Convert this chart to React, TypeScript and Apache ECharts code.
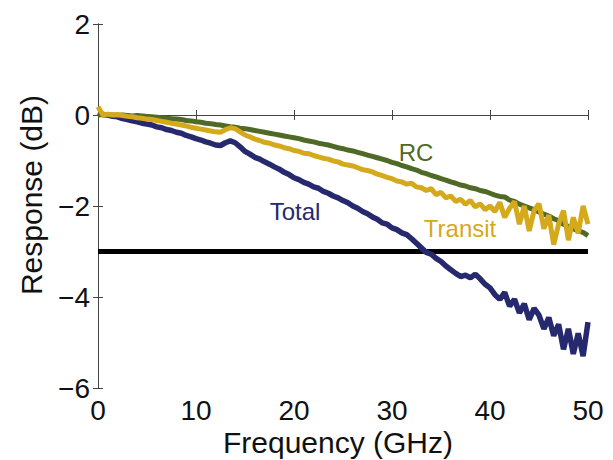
import React, { useEffect, useRef } from "react";
import * as echarts from "echarts";

const freq = [
  0, 0.5, 1, 1.5, 2, 2.5, 3, 3.5, 4, 4.5, 5, 5.5, 6, 6.5, 7, 7.5, 8, 8.5, 9, 9.5,
  10, 10.5, 11, 11.5, 12, 12.5, 13, 13.5, 14, 14.5, 15, 15.5, 16, 16.5, 17, 17.5, 18, 18.5, 19, 19.5,
  20, 20.5, 21, 21.5, 22, 22.5, 23, 23.5, 24, 24.5, 25, 25.5, 26, 26.5, 27, 27.5, 28, 28.5, 29, 29.5,
  30, 30.5, 31, 31.5, 32, 32.5, 33, 33.5, 34, 34.5, 35, 35.5, 36, 36.5, 37, 37.5, 38, 38.5, 39, 39.5,
  40, 40.5, 41, 41.5, 42, 42.5, 43, 43.5, 44, 44.5, 45, 45.5, 46, 46.5, 47, 47.5, 48, 48.5, 49, 49.5, 50,
];

const total = [
  0.05, 0.01, 0.0, -0.03, -0.04, -0.08, -0.1, -0.13, -0.15, -0.18, -0.2, -0.22, -0.26, -0.28, -0.32, -0.34, -0.38, -0.4, -0.45, -0.48,
  -0.52, -0.55, -0.59, -0.62, -0.66, -0.67, -0.61, -0.57, -0.61, -0.7, -0.8, -0.86, -0.93, -0.97, -1.03, -1.08, -1.14, -1.19, -1.26, -1.31,
  -1.38, -1.42, -1.48, -1.52, -1.58, -1.61, -1.68, -1.72, -1.78, -1.82, -1.88, -1.93, -2.0, -2.05, -2.12, -2.17, -2.24, -2.29, -2.37, -2.4,
  -2.48, -2.52, -2.59, -2.63, -2.72, -2.82, -2.92, -3.02, -3.06, -3.15, -3.22, -3.32, -3.4, -3.48, -3.55, -3.52, -3.58, -3.5, -3.6, -3.72,
  -3.8, -3.95, -4.05, -3.9, -4.2, -4.05, -4.35, -4.15, -4.5, -4.25, -4.4, -4.7, -4.45, -4.85, -4.6, -5.15, -4.7, -5.25, -4.8, -5.3, -4.55,
];

const rc = [
  0.0, 0.01, 0.0, 0.0, -0.01, 0.0, -0.01, -0.02, -0.01, -0.02, -0.03, -0.04, -0.05, -0.06, -0.07, -0.08, -0.09, -0.1, -0.12, -0.13,
  -0.15, -0.16, -0.18, -0.19, -0.21, -0.22, -0.24, -0.26, -0.27, -0.29, -0.3, -0.32, -0.34, -0.36, -0.38, -0.4, -0.42, -0.44, -0.46, -0.48,
  -0.5, -0.52, -0.55, -0.57, -0.59, -0.62, -0.64, -0.66, -0.69, -0.72, -0.74, -0.77, -0.79, -0.82, -0.85, -0.88, -0.91, -0.94, -0.97, -1.0,
  -1.04, -1.07, -1.11, -1.14, -1.18, -1.21, -1.26, -1.29, -1.33, -1.36, -1.4, -1.43, -1.47, -1.5, -1.54, -1.56, -1.6, -1.62, -1.66, -1.68,
  -1.72, -1.76, -1.79, -1.8, -1.87, -1.9, -1.96, -2.0, -2.04, -2.08, -2.13, -2.18, -2.22, -2.28, -2.32, -2.4, -2.45, -2.5, -2.55, -2.58, -2.65,
];

const transit = [
  0.18, 0.0, 0.02, 0.0, 0.01, -0.01, -0.03, -0.04, -0.06, -0.07, -0.09, -0.1, -0.12, -0.14, -0.16, -0.18, -0.2, -0.22, -0.24, -0.27,
  -0.29, -0.31, -0.33, -0.35, -0.37, -0.38, -0.32, -0.28, -0.3, -0.37, -0.44, -0.48, -0.53, -0.56, -0.6, -0.62, -0.66, -0.68, -0.72, -0.74,
  -0.78, -0.8, -0.84, -0.85, -0.89, -0.92, -0.95, -0.97, -1.01, -1.03, -1.08, -1.1, -1.12, -1.16, -1.2, -1.22, -1.25, -1.3, -1.33, -1.37,
  -1.4, -1.45, -1.47, -1.52, -1.5, -1.58, -1.6, -1.66, -1.62, -1.75, -1.7, -1.82, -1.78, -1.9, -1.85, -1.96, -1.88, -2.02, -1.95, -2.08,
  -2.0, -2.12, -1.92, -2.25, -2.05, -1.9, -2.4, -2.0, -2.55, -2.1, -1.95, -2.5, -2.2, -2.85, -2.4, -2.1, -2.75, -2.25, -2.6, -2.0, -2.4,
];

const thresholdX = [0, 50];
const thresholdY = [-3, -3];

const xTicks = { min: 0, max: 50, interval: 10 };
const yTicks = { min: -6, max: 2, interval: 2 };

const FONT = "'Liberation Sans', Arial, Helvetica, sans-serif";
const C_TOTAL = "#26296e";
const C_RC = "#4f6a27";
const C_TRANSIT = "#d4a91c";

function pairs(xs: number[], ys: number[]) {
  return xs.map((x, i) => [x, ys[i]]);
}

export default function App() {
  const ref = useRef<HTMLDivElement>(null);
  useEffect(() => {
    if (!ref.current) return;
    const chart = echarts.init(ref.current, undefined, { renderer: "svg" });
    const axisLine = { show: true, lineStyle: { color: "#444", width: 1 } };
    const tickStyle = { show: true, inside: true, length: 5, lineStyle: { color: "#444", width: 1 } };
    const fmt = (v: number) => String(v).replace("-", "\u2212");
    chart.setOption({
      animation: false,
      backgroundColor: "#ffffff",
      grid: { left: 98, right: 25, top: 24, bottom: 72, containLabel: false },
      xAxis: [
        {
          type: "value",
          ...xTicks,
          axisLine,
          axisTick: tickStyle,
          splitLine: { show: false },
          axisLabel: { color: "#111", fontSize: 28, fontFamily: FONT, margin: 8, formatter: fmt },
        },
        {
          type: "value",
          position: "top",
          ...xTicks,
          axisLine,
          axisTick: tickStyle,
          splitLine: { show: false },
          axisLabel: { show: false },
        },
      ],
      yAxis: [
        {
          type: "value",
          ...yTicks,
          axisLine,
          axisTick: tickStyle,
          splitLine: { show: false },
          axisLabel: { color: "#111", fontSize: 28, fontFamily: FONT, margin: 8, formatter: fmt },
        },
        {
          type: "value",
          position: "right",
          ...yTicks,
          axisLine,
          axisTick: tickStyle,
          splitLine: { show: false },
          axisLabel: { show: false },
        },
      ],
      series: [
        {
          name: "-3 dB",
          type: "line",
          data: pairs(thresholdX, thresholdY),
          showSymbol: false,
          lineStyle: { color: "#000", width: 5 },
          z: 1,
        },
        {
          name: "Total",
          type: "line",
          data: pairs(freq, total),
          showSymbol: false,
          lineStyle: { color: C_TOTAL, width: 5.5 },
          z: 2,
        },
        {
          name: "RC",
          type: "line",
          data: pairs(freq, rc),
          showSymbol: false,
          lineStyle: { color: C_RC, width: 5 },
          z: 3,
        },
        {
          name: "Transit",
          type: "line",
          data: pairs(freq, transit),
          showSymbol: false,
          lineStyle: { color: C_TRANSIT, width: 5 },
          z: 4,
        },
      ],
      graphic: [
        {
          type: "text",
          x: 31,
          y: 195,
          rotation: Math.PI / 2,
          style: { text: "Response (dB)", fontSize: 30, fontFamily: FONT, fill: "#111", align: "center", verticalAlign: "middle" },
        },
        {
          type: "text",
          x: 338,
          y: 442,
          style: { text: "Frequency (GHz)", fontSize: 30, fontFamily: FONT, fill: "#111", align: "center", verticalAlign: "middle" },
        },
        {
          type: "text",
          x: 416,
          y: 152,
          style: { text: "RC", fontSize: 24, fontFamily: FONT, fill: C_RC, align: "center", verticalAlign: "middle" },
        },
        {
          type: "text",
          x: 295,
          y: 211,
          style: { text: "Total", fontSize: 24, fontFamily: FONT, fill: C_TOTAL, align: "center", verticalAlign: "middle" },
        },
        {
          type: "text",
          x: 460,
          y: 228,
          style: { text: "Transit", fontSize: 24, fontFamily: FONT, fill: C_TRANSIT, align: "center", verticalAlign: "middle" },
        },
      ],
    });
    return () => chart.dispose();
  }, []);
  return <div ref={ref} style={{ position: "absolute", left: 0, top: 0, width: 613, height: 460 }} />;
}
